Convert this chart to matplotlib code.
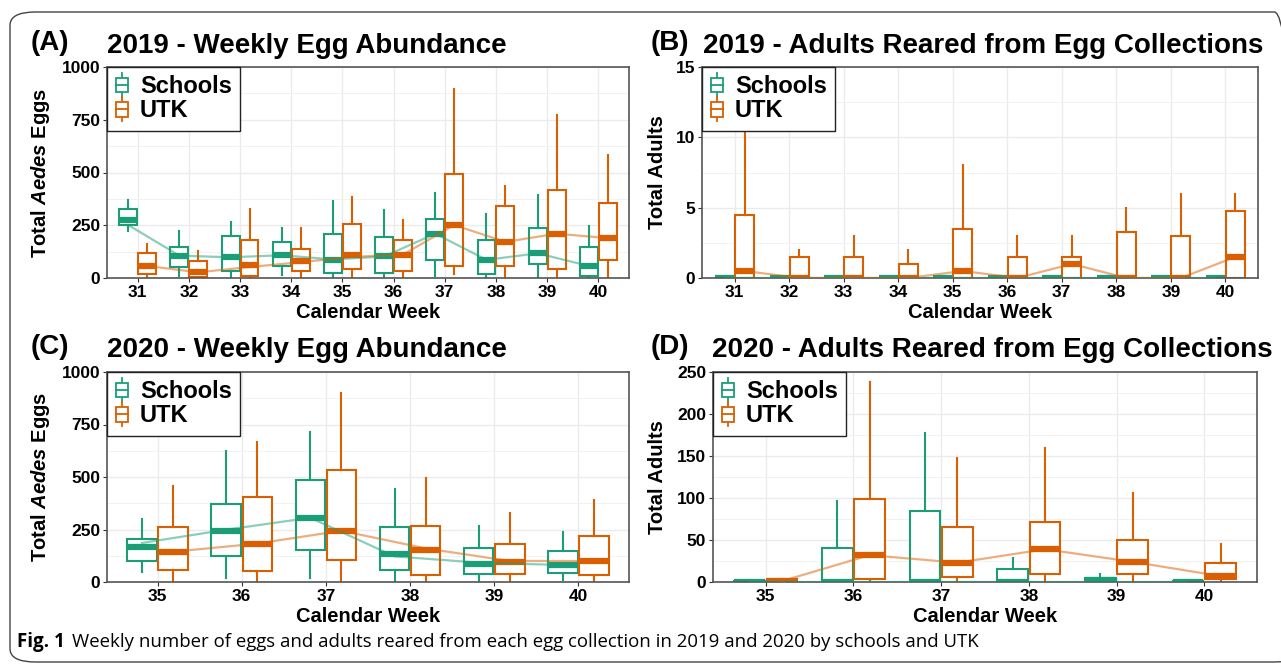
import numpy as np
import matplotlib
matplotlib.use('Agg')
import matplotlib.pyplot as plt
from matplotlib.patches import Rectangle, Patch, FancyBboxPatch
from matplotlib.lines import Line2D
from matplotlib.legend_handler import HandlerBase

plt.rcParams['font.family'] = ['Liberation Sans', 'DejaVu Sans']
plt.rcParams['mathtext.fontset'] = 'custom'
plt.rcParams['mathtext.rm'] = 'Liberation Sans:bold'
plt.rcParams['mathtext.it'] = 'Liberation Sans:bold:italic'

GREEN = '#1B9E77'
ORANGE = '#D95F02'

weeks_2019 = [31, 32, 33, 34, 35, 36, 37, 38, 39, 40]
weeks_2020 = [35, 36, 37, 38, 39, 40]

# 2019 eggs, per week: low whisker, Q1, median, Q3, high whisker
eggs19_schools_lo = [222, 11, 3, 16, 0, 3, 11, 0, 0, 0]
eggs19_schools_q1 = [251, 54, 35, 57, 25, 25, 86, 19, 67, 11]
eggs19_schools_med = [276, 106, 98, 108, 86, 102, 210, 86, 117, 57]
eggs19_schools_q3 = [327, 149, 200, 170, 208, 194, 278, 178, 237, 149]
eggs19_schools_hi = [371, 222, 267, 235, 365, 321, 403, 305, 395, 248]
eggs19_schools_line = [251, 106, 98, 108, 88, 102, 210, 86, 117, 57]

eggs19_utk_lo = [0, 0, 0, 0, 0, 0, 19, 0, 0, 0]
eggs19_utk_q1 = [19, 3, 10, 35, 41, 32, 57, 57, 44, 86]
eggs19_utk_med = [57, 27, 60, 79, 108, 111, 251, 171, 210, 189]
eggs19_utk_q3 = [117, 79, 178, 137, 256, 181, 495, 340, 419, 356]
eggs19_utk_hi = [162, 127, 325, 235, 384, 276, 898, 438, 773, 581]
eggs19_utk_line = [57, 27, 52, 75, 100, 111, 251, 171, 210, 189]

# 2019 adults
adults19_schools_lo = [0] * 10
adults19_schools_q1 = [0] * 10
adults19_schools_med = [0] * 10
adults19_schools_q3 = [0] * 10
adults19_schools_hi = [0] * 10
adults19_schools_line = [0] * 10

adults19_utk_lo = [0, 0, 0, 0, 0, 0, 0, 0, 0, 0]
adults19_utk_q1 = [0, 0, 0, 0, 0, 0, 0, 0, 0, 0]
adults19_utk_med = [0.5, 0, 0, 0, 0.5, 0, 1.0, 0, 0, 1.5]
adults19_utk_q3 = [4.5, 1.5, 1.5, 1.0, 3.5, 1.5, 1.5, 3.25, 3.0, 4.75]
adults19_utk_hi = [12, 2, 3, 2, 8, 3, 3, 5, 6, 6]
adults19_utk_line = [0.5, 0, 0, 0, 0.5, 0, 1.0, 0, 0, 1.5]

# 2020 eggs
eggs20_schools_lo = [49, 19, 19, 6, 0, 8]
eggs20_schools_q1 = [102, 125, 154, 59, 37, 43]
eggs20_schools_med = [167, 244, 306, 133, 86, 79]
eggs20_schools_q3 = [205, 373, 486, 262, 162, 146]
eggs20_schools_hi = [298, 622, 716, 444, 265, 240]
eggs20_schools_line = [186, 249, 306, 122, 92, 81]

eggs20_utk_lo = [0, 0, 0, 0, 0, 0]
eggs20_utk_q1 = [56, 51, 103, 35, 38, 35]
eggs20_utk_med = [144, 183, 244, 152, 95, 100]
eggs20_utk_q3 = [262, 406, 535, 267, 183, 217]
eggs20_utk_hi = [456, 667, 902, 494, 330, 389]
eggs20_utk_line = [144, 183, 244, 160, 100, 100]

# 2020 adults
adults20_schools_lo = [0, 0, 0, 0, 0, 0]
adults20_schools_q1 = [0, 0, 0, 0, 0, 0]
adults20_schools_med = [0, 0, 0, 0, 2, 0]
adults20_schools_q3 = [1, 40, 84, 15, 5, 1]
adults20_schools_hi = [1, 97, 177, 28, 9, 1]
adults20_schools_line = [0, 0, 0, 0, 0, 0]

adults20_utk_lo = [0, 0, 0, 0, 0, 0]
adults20_utk_q1 = [0, 3, 6, 10, 10, 3]
adults20_utk_med = [1, 32, 23, 39, 24, 7]
adults20_utk_q3 = [3, 99, 66, 72, 50, 23]
adults20_utk_hi = [3, 238, 148, 160, 106, 45]
adults20_utk_line = [1, 32, 23, 39, 24, 7]


class BoxHandler(HandlerBase):
    def create_artists(self, legend, orig_handle, xdescent, ydescent,
                       width, height, fontsize, trans):
        c = orig_handle.get_edgecolor()
        cx = width / 2 - xdescent
        bw = width * 0.85
        bh = height * 0.75
        cy = height / 2 - ydescent
        rect = Rectangle((cx - bw / 2, cy - bh / 2), bw, bh, facecolor='white',
                         edgecolor=c, lw=1.3, transform=trans)
        med = Line2D([cx - bw / 2, cx + bw / 2], [cy, cy], color=c, lw=1.3, transform=trans)
        wh1 = Line2D([cx, cx], [cy + bh / 2, cy + height * 0.62], color=c, lw=1.3, transform=trans)
        wh2 = Line2D([cx, cx], [cy - bh / 2, cy - height * 0.62], color=c, lw=1.3, transform=trans)
        return [wh1, wh2, rect, med]


def stats(lo, q1, med, q3, hi):
    return [dict(whislo=a, q1=b, med=c, q3=d, whishi=e)
            for a, b, c, d, e in zip(lo, q1, med, q3, hi)]


def panel(ax, weeks, sch, utk, sch_line, utk_line, ymax, yticks, ylabel, lab_x):
    weeks = np.array(weeks, dtype=float)
    off = 0.185
    for data, pos, col in [(sch, weeks - off, GREEN), (utk, weeks + off, ORANGE)]:
        ax.bxp(stats(*data), positions=pos, widths=0.35, patch_artist=True,
               showcaps=False, showfliers=False, manage_ticks=False,
               boxprops=dict(facecolor='white', edgecolor=col, lw=1.5),
               whiskerprops=dict(color=col, lw=1.5),
               medianprops=dict(color=col, lw=4.5, solid_capstyle='butt'))
    ax.plot(weeks - off, sch_line, color=GREEN, alpha=0.5, lw=1.6, zorder=4)
    ax.plot(weeks + off, utk_line, color=ORANGE, alpha=0.5, lw=1.6, zorder=4)

    ax.set_xlim(weeks[0] - 0.6, weeks[-1] + 0.6)
    ax.set_ylim(0, ymax)
    ax.set_xticks(weeks)
    ax.set_xticklabels([str(int(w)) for w in weeks])
    ax.set_yticks(yticks)
    minor = [(a + b) / 2 for a, b in zip(yticks[:-1], yticks[1:])]
    ax.set_yticks(minor, minor=True)
    ax.grid(True, which='major', color='#EBEBEB', lw=1.0)
    ax.grid(True, which='minor', axis='y', color='#F2F2F2', lw=0.7)
    ax.set_axisbelow(True)
    ax.tick_params(axis='both', which='major', labelsize=12.5, length=3,
                   color='#333333', pad=2)
    ax.tick_params(axis='y', which='minor', length=0)
    for lbl in ax.get_xticklabels() + ax.get_yticklabels():
        lbl.set_fontweight('bold')
    for s in ax.spines.values():
        s.set_color('#555555')
        s.set_linewidth(1.2)
    ax.set_xlabel('Calendar Week', fontsize=14.5, fontweight='bold')
    ax.xaxis.set_label_coords(0.5, -0.165)
    ax.xaxis.label.set_va('center')
    ax.set_ylabel(ylabel, fontsize=14.5, fontweight='bold')
    ax.yaxis.set_label_coords(lab_x, 0.5)
    ax.yaxis.label.set_va('center')

    handles = [Patch(edgecolor=GREEN, facecolor='white'), Patch(edgecolor=ORANGE, facecolor='white')]
    leg = ax.legend(handles, ['Schools', 'UTK'], handler_map={Patch: BoxHandler()},
                    loc='upper left', bbox_to_anchor=(0, 1), borderaxespad=0,
                    prop=dict(size=17, weight='bold'), frameon=True, fancybox=False,
                    framealpha=1, edgecolor='#222222', handlelength=0.6,
                    handleheight=0.9, handletextpad=0.45, labelspacing=0.05,
                    borderpad=0.35)
    leg.get_frame().set_linewidth(1.0)
    leg.set_zorder(10)


W, H = 1281, 664
fig = plt.figure(figsize=(W / 100, H / 100), dpi=100)


def px_axes(l, t, r, b):
    return fig.add_axes([l / W, 1 - b / H, (r - l) / W, (b - t) / H])


axA = px_axes(107, 67, 629, 278)
axB = px_axes(702, 67, 1258, 278)
axC = px_axes(107, 372, 629, 582)
axD = px_axes(713, 372, 1257, 582)

egg_label = r'Total $\it{Aedes}$ Eggs'
panel(axA, weeks_2019,
      (eggs19_schools_lo, eggs19_schools_q1, eggs19_schools_med, eggs19_schools_q3, eggs19_schools_hi),
      (eggs19_utk_lo, eggs19_utk_q1, eggs19_utk_med, eggs19_utk_q3, eggs19_utk_hi),
      eggs19_schools_line, eggs19_utk_line, 1000, [0, 250, 500, 750, 1000], egg_label, -0.128)
panel(axB, weeks_2019,
      (adults19_schools_lo, adults19_schools_q1, adults19_schools_med, adults19_schools_q3, adults19_schools_hi),
      (adults19_utk_lo, adults19_utk_q1, adults19_utk_med, adults19_utk_q3, adults19_utk_hi),
      adults19_schools_line, adults19_utk_line, 15, [0, 5, 10, 15], 'Total Adults', -0.08)
panel(axC, weeks_2020,
      (eggs20_schools_lo, eggs20_schools_q1, eggs20_schools_med, eggs20_schools_q3, eggs20_schools_hi),
      (eggs20_utk_lo, eggs20_utk_q1, eggs20_utk_med, eggs20_utk_q3, eggs20_utk_hi),
      eggs20_schools_line, eggs20_utk_line, 1000, [0, 250, 500, 750, 1000], egg_label, -0.128)
panel(axD, weeks_2020,
      (adults20_schools_lo, adults20_schools_q1, adults20_schools_med, adults20_schools_q3, adults20_schools_hi),
      (adults20_utk_lo, adults20_utk_q1, adults20_utk_med, adults20_utk_q3, adults20_utk_hi),
      adults20_schools_line, adults20_utk_line, 250, [0, 50, 100, 150, 200, 250], 'Total Adults', -0.102)


def ftext(x, y, s, **kw):
    fig.text(x / W, 1 - y / H, s, va='center', ha='left', **kw)


ftext(31, 43, '(A)', fontsize=20, fontweight='bold')
ftext(107, 46, '2019 - Weekly Egg Abundance', fontsize=20, fontweight='bold')
ftext(651, 43, '(B)', fontsize=20, fontweight='bold')
ftext(703, 46, '2019 - Adults Reared from Egg Collections', fontsize=20, fontweight='bold')
ftext(31, 347, '(C)', fontsize=20, fontweight='bold')
ftext(107, 350, '2020 - Weekly Egg Abundance', fontsize=20, fontweight='bold')
ftext(651, 347, '(D)', fontsize=20, fontweight='bold')
ftext(712, 350, '2020 - Adults Reared from Egg Collections', fontsize=20, fontweight='bold')

ftext(17, 642, 'Fig. 1', fontsize=13.5, fontweight='bold', family=['Open Sans', 'DejaVu Sans'])
ftext(72, 642, 'Weekly number of eggs and adults reared from each egg collection in 2019 and 2020 by schools and UTK',
      fontsize=13.4, family=['Open Sans', 'DejaVu Sans'])

border = FancyBboxPatch((10 / W, 1 - 662 / H), (1300 - 10) / W, (662 - 12) / H,
                        boxstyle='round,pad=0,rounding_size=0.02', transform=fig.transFigure,
                        facecolor='none', edgecolor='#444444', lw=1.0, clip_on=False)
fig.patches.append(border)

fig.savefig('out.png', dpi=100)
